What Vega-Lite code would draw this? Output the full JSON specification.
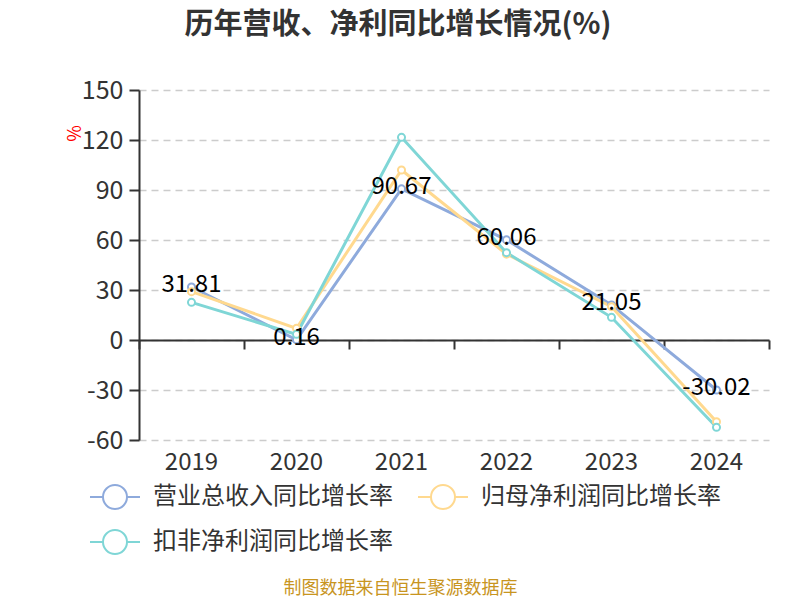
{
  "$schema": "https://vega.github.io/schema/vega-lite/v6.json",
  "width": 630,
  "height": 350,
  "autosize": "none",
  "padding": {"left": 139, "top": 90, "right": 31, "bottom": 160},
  "background": "white",
  "config": {
    "font": "Noto Sans CJK SC",
    "view": {"stroke": null}
  },
  "title": {
    "text": "历年营收、净利同比增长情况(%)",
    "fontSize": 29,
    "fontWeight": "bold",
    "color": "#333333",
    "anchor": "middle",
    "frame": "group",
    "dx": -56,
    "offset": 38
  },
  "data": {
    "values": [
      {"year": "2019", "series": "营业总收入同比增长率", "value": 31.81},
      {"year": "2020", "series": "营业总收入同比增长率", "value": 0.16},
      {"year": "2021", "series": "营业总收入同比增长率", "value": 90.67},
      {"year": "2022", "series": "营业总收入同比增长率", "value": 60.06},
      {"year": "2023", "series": "营业总收入同比增长率", "value": 21.05},
      {"year": "2024", "series": "营业总收入同比增长率", "value": -30.02},
      {"year": "2019", "series": "归母净利润同比增长率", "value": 29.0},
      {"year": "2020", "series": "归母净利润同比增长率", "value": 7.0},
      {"year": "2021", "series": "归母净利润同比增长率", "value": 102.0},
      {"year": "2022", "series": "归母净利润同比增长率", "value": 51.5},
      {"year": "2023", "series": "归母净利润同比增长率", "value": 20.0},
      {"year": "2024", "series": "归母净利润同比增长率", "value": -49.0},
      {"year": "2019", "series": "扣非净利润同比增长率", "value": 22.6},
      {"year": "2020", "series": "扣非净利润同比增长率", "value": 3.4},
      {"year": "2021", "series": "扣非净利润同比增长率", "value": 121.6},
      {"year": "2022", "series": "扣非净利润同比增长率", "value": 52.4},
      {"year": "2023", "series": "扣非净利润同比增长率", "value": 13.6},
      {"year": "2024", "series": "扣非净利润同比增长率", "value": -52.4}
    ]
  },
  "resolve": {"axis": {"x": "independent"}},
  "layer": [
    {
      "mark": {
        "type": "line",
        "strokeWidth": 3,
        "point": {"filled": false, "fill": "white", "size": 50, "strokeWidth": 2}
      },
      "encoding": {
        "x": {
          "field": "year",
          "type": "ordinal",
          "scale": {"paddingInner": 0, "paddingOuter": 0},
          "axis": {
            "orient": "bottom",
            "offset": -100,
            "labels": false,
            "title": null,
            "domainColor": "#333333",
            "domainWidth": 2,
            "tickColor": "#333333",
            "tickWidth": 2,
            "tickSize": 9,
            "tickBand": "extent",
            "grid": false
          }
        },
        "y": {
          "field": "value",
          "type": "quantitative",
          "scale": {"domain": [-60, 150], "nice": false, "zero": false},
          "axis": {
            "values": [-60, -30, 0, 30, 60, 90, 120, 150],
            "labelExpr": "replace(datum.label, '−', '-')",
            "title": "%",
            "titleColor": "#ff0000",
            "titleFontSize": 18,
            "titleFontWeight": "normal",
            "titleX": -64,
            "titleY": 43,
            "titleAngle": -90,
            "titleAlign": "center",
            "titleBaseline": "middle",
            "labelFontSize": 25,
            "labelColor": "#333333",
            "labelPadding": 6,
            "domainColor": "#333333",
            "domainWidth": 2,
            "tickColor": "#333333",
            "tickWidth": 2,
            "tickSize": 10,
            "grid": true,
            "gridColor": "#cccccc",
            "gridWidth": 1.5,
            "gridDash": [7, 5]
          }
        },
        "color": {
          "field": "series",
          "type": "nominal",
          "sort": ["营业总收入同比增长率", "归母净利润同比增长率", "扣非净利润同比增长率"],
          "scale": {
            "domain": ["营业总收入同比增长率", "归母净利润同比增长率", "扣非净利润同比增长率"],
            "range": ["#8eaadc", "#ffd98f", "#7fd6d6"]
          },
          "legend": {
            "orient": "none",
            "legendX": -40,
            "legendY": 391,
            "direction": "horizontal",
            "columns": 2,
            "title": null,
            "symbolType": "M-1.667,0L-0.8,0M0.8,0L1.667,0M0.8,0A0.8,0.8,0,1,1,-0.8,0A0.8,0.8,0,1,1,0.8,0Z",
            "symbolSize": 900,
            "symbolStrokeWidth": 2,
            "symbolFillColor": "white",
            "labelFontSize": 24,
            "labelColor": "#333333",
            "labelOffset": 22,
            "columnPadding": 20,
            "rowPadding": 13,
            "labelLimit": 400
          }
        }
      }
    },
    {
      "transform": [{"filter": "datum.series === '营业总收入同比增长率'"}],
      "mark": {"type": "text", "fontSize": 24, "color": "#000000", "baseline": "middle", "align": "center", "dy": -2},
      "encoding": {
        "x": {
          "field": "year",
          "type": "ordinal",
          "axis": {
            "orient": "bottom",
            "domain": false,
            "ticks": false,
            "labelFontSize": 24,
            "labelColor": "#333333",
            "labelPadding": 10,
            "labelAngle": 0,
            "title": "制图数据来自恒生聚源数据库",
            "titleFontSize": 18,
            "titleFontWeight": "normal",
            "titleColor": "#c8951f",
            "titleX": 261,
            "titleY": 148,
            "titleAlign": "center",
            "titleBaseline": "middle",
            "grid": false
          }
        },
        "y": {"field": "value", "type": "quantitative"},
        "text": {"field": "value", "type": "nominal"}
      }
    }
  ]
}
